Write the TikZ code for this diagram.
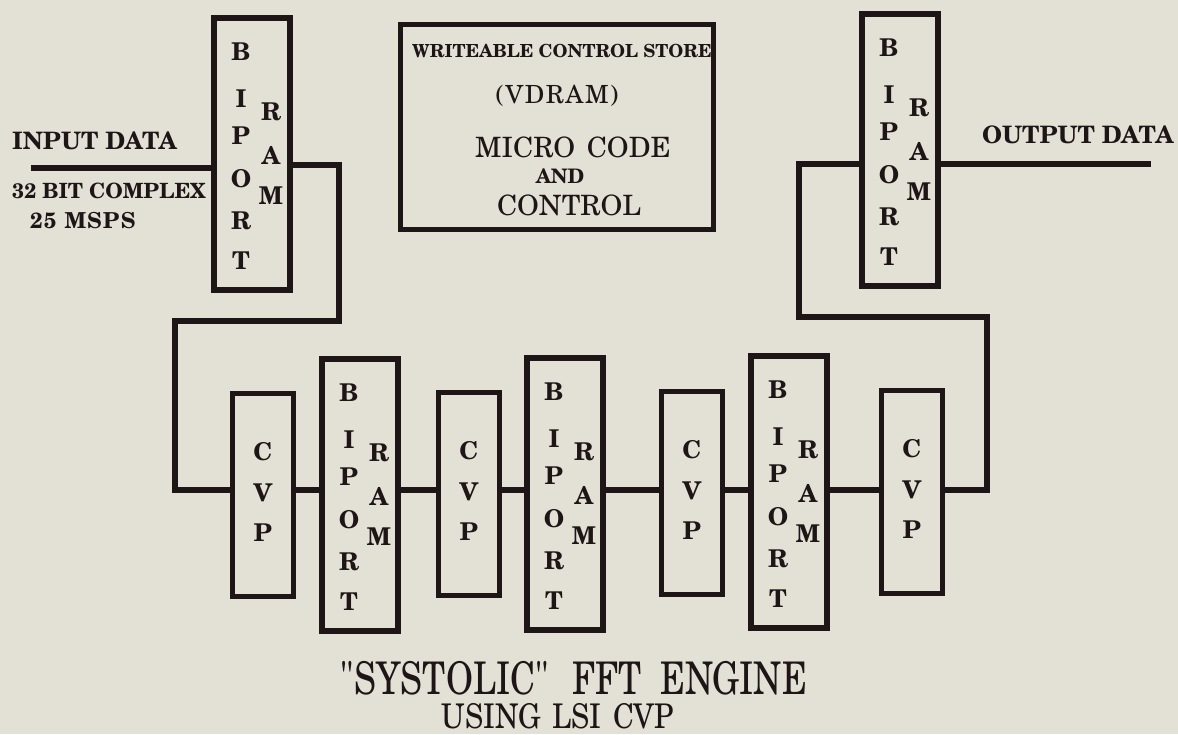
\documentclass[tikz,border=0pt]{standalone}
\usepackage{fontspec}
\setmainfont{TeX Gyre Schola}
\usetikzlibrary{calc}
\definecolor{paper}{RGB}{227,224,214}
\definecolor{ink}{RGB}{30,22,22}
\tikzset{
  ramblk/.style={draw=ink,line width=5.5pt,rectangle,minimum width=76pt,minimum height=272pt,inner sep=0pt,outer sep=0pt},
  cvpblk/.style={draw=ink,line width=5.5pt,rectangle,minimum width=61pt,minimum height=203pt,inner sep=0pt,outer sep=0pt},
  ctlblk/.style={draw=ink,line width=5.5pt,rectangle,minimum width=313pt,minimum height=205pt,inner sep=0pt,outer sep=0pt},
  ltr/.style={text=ink,font=\bfseries\fontsize{24.5}{24.5}\selectfont,inner sep=0pt},
  lbl/.style={text=ink,inner sep=0pt},
  wire/.style={draw=ink,line width=5.5pt,line join=miter}
}
\newcommand\ramunit[3]{%
  \node[ramblk] (#1) at (#2,#3) {};
  \foreach \ch/\dy [count=\i] in {B/-102,I/-55,P/-18,O/25,R/67,T/107}
    \node[ltr] (#1-a\i) at ($(#1.center)+(-11,\dy)$) {\ch};
  \foreach \ch/\dy [count=\i] in {R/-42,A/1,M/42}
    \node[ltr] (#1-b\i) at ($(#1.center)+(19,\dy)$) {\ch};
}
\newcommand\cvpunit[3]{%
  \node[cvpblk] (#1) at (#2,#3) {};
  \foreach \ch/\dy [count=\i] in {C/-43,V/-2,P/38}
    \node[ltr] (#1-\i) at ($(#1.center)+(0,\dy)$) {\ch};
}
\begin{document}
\begin{tikzpicture}[x=1pt,y=-1pt]
\fill[paper] (0,0) rectangle (1178,734);
\useasboundingbox (0,0) rectangle (1178,734);

% helper rows
\coordinate (iy) at (0,168);
\coordinate (iy2) at (0,165);
\coordinate (oy) at (0,164);
\coordinate (wy) at (0,490);

% blocks
\ramunit{tl}{252}{154}
\ramunit{tr}{900}{150}
\ramunit{b2}{360}{495}
\ramunit{b3}{565}{494}
\ramunit{b4}{789}{492}
\cvpunit{c1}{263}{495}
\cvpunit{c2}{469}{494}
\cvpunit{c3}{692}{493}
\cvpunit{c4}{912}{492}

% control store
\node[ctlblk] (ctl) at (557,127) {};
\node[lbl,font=\bfseries\fontsize{18}{18}\selectfont] (ctl1) at (562,51) {WRITEABLE CONTROL STORE};
\node[lbl,font=\fontsize{25}{25}\selectfont\addfontfeatures{LetterSpace=6}] (ctl2) at (557,96) {(VDRAM)};
\node[lbl,font=\fontsize{28}{28}\selectfont] (ctl3) at (573,147) {MICRO\hspace{4pt} CODE};
\node[lbl,font=\bfseries\fontsize{20}{20}\selectfont] (ctl4) at (560,176) {AND};
\node[lbl,font=\fontsize{28}{28}\selectfont] (ctl5) at (569,205) {CONTROL};

% labels
\node[lbl,anchor=west,font=\bfseries\fontsize{24}{24}\selectfont] (inlbl) at (12,141) {INPUT DATA};
\node[lbl,anchor=west,font=\bfseries\fontsize{21}{21}\selectfont] (bits) at (12,191) {32 BIT COMPLEX};
\node[lbl,anchor=west,font=\bfseries\fontsize{22}{22}\selectfont\addfontfeatures{LetterSpace=5}] (rate) at (30,221) {25\hspace{8pt}MSPS};
\node[lbl,anchor=west,font=\bfseries\fontsize{24}{24}\selectfont] (outlbl) at (982,135) {OUTPUT DATA};
\node[lbl,font=\fontsize{45}{45}\selectfont] (title) at (574,678) {\scalebox{0.77}[1]{\textquotedbl SYSTOLIC\textquotedbl\hspace{18pt} FFT\hspace{12pt} ENGINE}};
\node[lbl,font=\fontsize{34}{34}\selectfont] (sub) at (558,716) {\scalebox{0.85}[1]{USING\hspace{4pt} LSI\hspace{4pt} CVP}};

% wires
\coordinate (inA) at (31,168);
\coordinate (outA) at (1151,164);
\draw[wire] (inA) -- (tl.west |- iy);
\draw[wire] (tl.east |- iy2) -| (339,321) -| (175,490) -- (c1.west |- wy);
\draw[wire] (c1.east |- wy) -- (b2.west |- wy);
\draw[wire] (b2.east |- wy) -- (c2.west |- wy);
\draw[wire] (c2.east |- wy) -- (b3.west |- wy);
\draw[wire] (b3.east |- wy) -- (c3.west |- wy);
\draw[wire] (c3.east |- wy) -- (b4.west |- wy);
\draw[wire] (b4.east |- wy) -- (c4.west |- wy);
\draw[wire] (c4.east |- wy) -| (987,317) -| (799,164) -- (tr.west |- oy);
\draw[wire] (tr.east |- oy) -- (outA);
\end{tikzpicture}
\end{document}
